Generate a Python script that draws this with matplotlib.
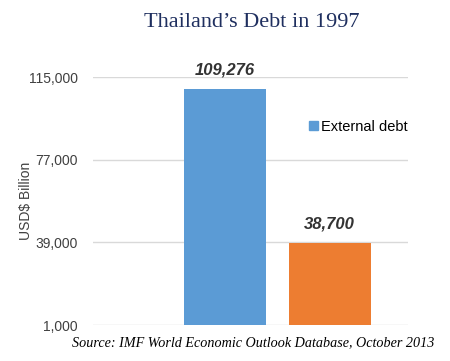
import matplotlib.pyplot as plt
from matplotlib.patches import Patch

# Data
categories = ['External debt', 'Other']
values = [109276, 38700]
value_labels = ['109,276', '38,700']
colors = ['#5B9BD5', '#ED7D31']
ytick_vals = [1000, 39000, 77000, 115000]
ytick_labels = ['1,000', '39,000', '77,000', '115,000']

fig = plt.figure(figsize=(4.5, 3.61), dpi=100)
ax = fig.add_axes([0.207, 0.0997, 0.70, 0.687])

x = range(len(values))
bars = ax.bar(x, values, width=0.785, color=colors, zorder=3)

for xi, v, lab in zip(x, values, value_labels):
    ax.text(xi, v + 5300, lab, ha='center', va='bottom', fontsize=12,
            fontweight='bold', fontstyle='italic', color='#333333',
            family='Liberation Sans')

ax.set_xlim(-1.263, 1.751)
ax.set_ylim(1000, 115000)
ax.set_yticks(ytick_vals)
ax.set_yticklabels(ytick_labels, family='Liberation Sans', fontsize=10, color='#404040')
ax.set_xticks([])
ax.tick_params(axis='y', length=0, pad=11)
ax.grid(axis='y', color='#D9D9D9', linewidth=1, zorder=0)
for s in ax.spines.values():
    s.set_visible(False)

ax.set_ylabel('USD$ Billion', family='Liberation Sans', fontsize=10,
              color='#404040')
ax.yaxis.set_label_coords(-0.19, 0.5)

ax.legend(handles=[Patch(color=colors[0], label=categories[0])],
          loc='upper left', bbox_to_anchor=(0.645, 0.88), frameon=False,
          handlelength=0.6, handleheight=0.6, handletextpad=0.2,
          prop={'family': 'Liberation Sans', 'size': 10.5})

fig.text(0.56, 0.938, 'Thailand\u2019s Debt in 1997', ha='center', va='center',
         fontsize=16, family='Liberation Serif', color='#1F2F5F')
fig.text(0.563, 0.05, 'Source: IMF World Economic Outlook Database, October 2013',
         ha='center', va='center', fontsize=10.2, fontstyle='italic',
         family='Liberation Serif', color='#000000')

fig.savefig('out.png', dpi=100)
